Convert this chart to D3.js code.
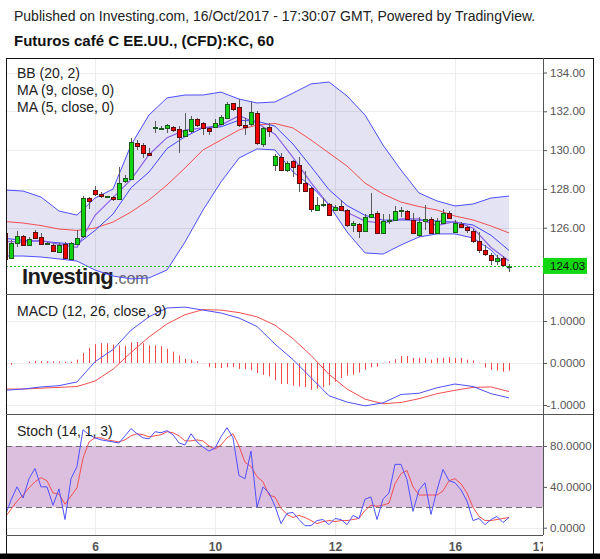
<!DOCTYPE html>
<html>
<head>
<meta charset="utf-8">
<title>KC, 60</title>
<script src="https://cdnjs.cloudflare.com/ajax/libs/d3/7.8.5/d3.min.js"></script>
<style>
  body { margin: 0; background: #fff; }
  svg { display: block; font-family: "Liberation Sans", Arial, sans-serif; }
</style>
</head>
<body>
<svg id="chart" width="600" height="559"></svg>
<script>
// ---- data (hourly candles, index 0 = left edge) ----
const candleOpen = [125.72,124.42,125.25,125.57,125.14,125.79,125.50,125.16,125.11,124.75,
  125.14,124.39,125.14,125.54,127.51,127.94,127.72,127.59,127.56,127.51,
  128.41,128.52,130.38,130.25,129.86,131.17,131.12,131.12,131.18,131.08,
  130.74,130.95,131.62,131.38,131.12,131.17,131.35,131.64,132.41,132.20,
  131.31,131.34,131.93,130.31,131.17,129.21,129.63,128.97,129.44,129.21,
  128.29,128.03,126.90,127.19,127.20,126.90,127.12,126.91,126.15,126.17,
  125.84,126.55,126.75,125.76,126.38,126.38,126.90,126.85,126.40,125.62,
  126.31,126.43,125.74,126.28,126.78,125.76,126.19,126.02,125.81,125.33,
  124.85,124.57,124.27,124.42,124.00];
const candleHigh = [125.85,125.37,125.85,125.62,125.53,125.88,125.71,125.24,125.20,125.20,
  125.25,125.25,125.88,127.63,127.60,128.15,127.85,127.65,127.65,129.14,
  128.72,130.60,130.51,130.35,130.10,131.50,131.22,131.34,131.25,131.24,
  131.90,131.76,131.67,131.46,131.21,131.59,131.81,132.50,132.45,132.62,
  131.66,132.50,132.03,131.21,131.38,129.80,129.83,129.45,129.50,129.66,
  128.92,128.12,127.57,127.51,127.26,127.19,127.43,126.95,126.34,126.22,
  126.71,127.77,126.88,126.71,126.71,127.10,127.08,126.91,126.74,126.57,
  127.17,126.57,126.48,126.95,126.88,126.40,126.31,126.09,125.91,125.79,
  125.11,124.68,124.59,124.56,124.11];
const candleLow = [124.30,124.40,125.02,125.06,125.06,125.43,125.09,125.12,124.75,124.69,
  124.37,124.36,125.10,125.45,126.95,127.63,127.52,127.55,127.40,127.45,
  128.32,128.48,130.00,129.57,129.76,130.88,131.05,130.86,130.95,129.87,
  130.66,130.90,131.17,130.76,130.79,131.12,131.30,131.59,132.03,131.17,
  130.80,131.24,130.26,130.14,130.69,128.94,128.92,128.88,128.60,127.86,
  127.86,126.83,126.85,127.08,126.60,126.86,126.88,126.05,125.79,125.45,
  125.79,126.50,125.67,125.71,126.19,126.33,126.53,126.40,125.67,125.54,
  125.88,125.67,125.67,126.23,126.48,125.71,126.02,125.74,125.23,124.71,
  124.54,124.08,124.08,124.00,123.72];
const candleClose = [124.36,125.20,125.59,125.09,125.43,125.49,125.14,125.19,124.78,125.09,
  124.42,125.20,125.45,127.51,127.34,127.72,127.60,127.61,127.48,128.32,
  128.55,130.43,130.23,129.83,129.78,131.19,131.13,131.29,131.00,130.69,
  131.03,131.59,131.33,131.12,130.95,131.38,131.69,132.38,132.10,131.29,
  131.22,131.98,130.38,131.12,130.95,129.68,128.97,129.35,129.15,128.29,
  127.86,126.95,127.17,127.22,126.64,127.07,126.91,126.15,126.25,125.81,
  126.57,126.70,125.71,126.36,126.40,126.85,126.93,126.43,125.74,126.31,
  126.43,125.71,126.36,126.78,126.53,126.22,126.05,125.85,125.30,124.85,
  124.62,124.30,124.42,124.08,124.03];

// indicator lines read every third candle
const lineIdx = [0,3,6,9,12,15,18,21,24,27,30,33,36,39,42,45,48,51,54,57,60,63,66,69,72,75,78,81,84];
const bbUpper = [127.94,127.89,127.58,126.86,126.65,127.53,127.99,130.26,131.81,132.69,132.84,132.84,132.99,132.63,132.43,
  132.48,132.94,133.41,133.51,132.79,131.81,130.26,128.97,127.79,127.38,127.12,127.22,127.53,127.63];
const bbLower = [124.54,124.54,124.49,124.39,124.28,123.82,123.51,123.36,123.41,123.82,125.26,126.91,128.36,129.59,130.06,
  130.01,128.87,128.15,127.17,125.78,124.70,124.64,125.11,125.52,125.68,125.68,125.47,124.85,123.85];
const bbBasis = [126.32,126.24,126.11,125.93,125.86,125.98,126.29,126.81,127.43,128.20,129.08,130.01,130.52,131.04,131.29,
  131.37,131.14,130.52,129.85,129.18,128.30,127.74,127.32,127.09,126.91,126.60,126.40,126.09,125.73];
const ma9 = [125.45,125.35,125.30,125.22,125.13,125.86,126.70,128.06,128.87,130.08,130.69,131.15,131.20,131.54,131.49,
  131.23,130.31,129.15,127.96,127.14,126.64,126.39,126.40,126.38,126.35,126.28,126.14,125.61,124.83];
const ma5 = [125.30,125.25,125.35,125.14,124.99,126.64,127.55,128.48,129.76,130.64,131.03,131.15,131.29,131.77,131.39,
  130.82,129.62,128.32,127.17,126.80,126.34,126.23,126.45,126.45,126.11,126.32,125.99,124.98,124.29];

const macdLine = [-0.65,-0.62,-0.57,-0.54,-0.45,0.03,0.32,0.78,1.10,1.31,1.33,1.26,1.19,1.07,0.87,
  0.45,0.08,-0.35,-0.78,-0.93,-1.02,-0.95,-0.75,-0.72,-0.59,-0.50,-0.56,-0.73,-0.83];
const macdSignal = [-0.62,-0.62,-0.60,-0.58,-0.56,-0.43,-0.15,0.25,0.62,0.93,1.15,1.27,1.26,1.20,1.10,
  0.90,0.58,0.18,-0.27,-0.62,-0.86,-0.97,-0.94,-0.85,-0.73,-0.65,-0.58,-0.57,-0.68];
const macdHist = [0,-0.04,0,0,0.03,0.05,0.05,0.04,0.04,0.04,
  0.03,0.03,0.08,0.24,0.36,0.45,0.47,0.47,0.44,0.42,
  0.41,0.49,0.50,0.47,0.42,0.42,0.40,0.34,0.27,0.18,
  0.10,0.08,0.04,-0.01,-0.10,-0.12,-0.12,-0.10,-0.10,-0.14,
  -0.15,-0.17,-0.24,-0.28,-0.32,-0.41,-0.50,-0.50,-0.54,-0.56,
  -0.57,-0.64,-0.61,-0.58,-0.53,-0.45,-0.36,-0.30,-0.28,-0.23,
  -0.16,-0.10,-0.09,-0.01,0.04,0.09,0.17,0.17,0.12,0.12,
  0.12,0.08,0.12,0.12,0.14,0.12,0.12,0.08,0.06,0.01,
  -0.11,-0.16,-0.18,-0.21,-0.18];

const stochK = [11,27,40,29,48,58,40,40,22,38,8,48,60,96,91,88,86,85,84,83,
  90,97,92,88,87,94,93,95,91,83,81,92,84,79,75,78,89,98,88,51,
  48,75,20,40,34,21,4,14,15,8,2,2,7,8,3,9,8,3,12,9,
  28,30,8,28,34,62,62,47,16,37,44,13,37,57,46,44,37,26,7,9,
  3,8,11,5,10];
const stochD = [10,18,26,32,39,45,49,46,34,33,23,31,39,68,84,88,88,86,85,84,
  86,90,92,91,89,90,91,94,93,90,85,85,86,85,80,77,81,88,92,80,
  64,60,50,45,32,30,19,13,10,12,10,7,4,6,7,6,7,7,8,9,
  17,22,21,22,24,43,53,56,40,32,32,32,32,36,46,48,43,34,20,11,
  7,7,8,9,10];

const priceTicks = [126, 128, 130, 132, 134];
const macdTicks = [-1, 0, 1];
const stochTicks = [0, 40, 80];
const stochBand = [20, 80];
const lastPrice = 124.03;
const dayTickIdx = [15, 35, 55, 75, 89];
const dayLabels = ["6", "10", "12", "16", "17"];

// ---- layout ----
const plotL = 6, plotR = 543, frameR = 593, frameT = 58;
const mainB = 294, macdB = 414, stochB = 535;

const svg = d3.select("#chart");
const font = "'Liberation Sans', Arial, sans-serif";

const x = d3.scaleLinear().domain([0, 84]).range([5, 509]);
const yP = d3.scaleLinear().domain([124, 134]).range([266.5, 72.5]);
const yM = d3.scaleLinear().domain([-1, 1]).range([405, 321]);
const yS = d3.scaleLinear().domain([0, 80]).range([527.7, 446]);

// clip paths per panel
const defs = svg.append("defs");
function clip(id, y0, y1) {
  defs.append("clipPath").attr("id", id).append("rect")
    .attr("x", plotL + 1).attr("y", y0).attr("width", plotR - plotL - 1).attr("height", y1 - y0);
}
clip("cMain", frameT, mainB);
clip("cMacd", mainB, macdB);
clip("cStoch", macdB, stochB);

svg.append("rect").attr("width", 600).attr("height", 559).attr("fill", "#fff");

// header
svg.append("text").attr("x", 14).attr("y", 21)
  .style("font", `14px ${font}`).attr("fill", "#222")
  .text("Published on Investing.com, 16/Oct/2017 - 17:30:07 GMT, Powered by TradingView.");
svg.append("text").attr("x", 14).attr("y", 46)
  .style("font", `bold 15px ${font}`).attr("fill", "#111")
  .text("Futuros café C EE.UU., (CFD):KC, 60");

// grid
const grid = svg.append("g").attr("stroke", "#ececec").attr("shape-rendering", "crispEdges");
grid.selectAll(".vg").data(dayTickIdx.slice(0, 4)).join("line")
  .attr("x1", d => Math.round(x(d)) + 0.5).attr("x2", d => Math.round(x(d)) + 0.5)
  .attr("y1", frameT).attr("y2", stochB);
grid.selectAll(".hp").data(priceTicks).join("line")
  .attr("x1", plotL).attr("x2", plotR).attr("y1", d => Math.round(yP(d)) + 0.5).attr("y2", d => Math.round(yP(d)) + 0.5);
grid.selectAll(".hm").data(macdTicks).join("line")
  .attr("x1", plotL).attr("x2", plotR).attr("y1", d => Math.round(yM(d)) + 0.5).attr("y2", d => Math.round(yM(d)) + 0.5);
grid.selectAll(".hs").data([0, 40]).join("line")
  .attr("x1", plotL).attr("x2", plotR).attr("y1", d => Math.round(yS(d)) + 0.5).attr("y2", d => Math.round(yS(d)) + 0.5);

// ---- main panel ----
const main = svg.append("g").attr("clip-path", "url(#cMain)");

// watermark
const wm = main.append("g");
wm.append("text").attr("x", 22).attr("y", 284)
  .style("font", `bold 22px ${font}`).attr("letter-spacing", "-0.6").attr("fill", "#1c1c1c").text("Investing");
wm.append("text").attr("x", 114).attr("y", 284)
  .style("font", `16px ${font}`).attr("fill", "#6a6a6a").text(".com");

const pts = lineIdx.map((d, k) => k);
const band = d3.area().x(k => x(lineIdx[k])).y0(k => yP(bbLower[k])).y1(k => yP(bbUpper[k]));
main.append("path").datum(pts).attr("d", band).attr("fill", "rgba(60,60,170,0.14)");

function priceLine(vals, color, w) {
  main.append("path").datum(pts)
    .attr("d", d3.line().x(k => x(lineIdx[k])).y(k => yP(vals[k])))
    .attr("fill", "none").attr("stroke", color).attr("stroke-width", w);
}
priceLine(bbUpper, "#4f4fff", 1);
priceLine(bbLower, "#4f4fff", 1);
priceLine(bbBasis, "#f25050", 1);
priceLine(ma9, "#4646ff", 1);
priceLine(ma5, "#8c62e6", 1.2);

// candles
const cg = main.append("g").attr("shape-rendering", "crispEdges");
const idx = d3.range(candleClose.length);
cg.selectAll(".wick").data(idx).join("line")
  .attr("x1", i => x(i) + 0.5).attr("x2", i => x(i) + 0.5)
  .attr("y1", i => yP(candleHigh[i])).attr("y2", i => yP(candleLow[i]))
  .attr("stroke", "#5a5a5a");
cg.selectAll(".body").data(idx).join("rect")
  .attr("x", i => x(i) - 1.5).attr("width", 4)
  .attr("y", i => Math.round(yP(Math.max(candleOpen[i], candleClose[i]))) + 0.5)
  .attr("height", i => Math.max(1, Math.round(Math.abs(yP(candleOpen[i]) - yP(candleClose[i])))))
  .attr("fill", i => candleClose[i] >= candleOpen[i] ? "#0fd40f" : "#f20000")
  .attr("stroke", i => candleClose[i] >= candleOpen[i] ? "#1d5a1d" : "#5a1010");

// last price line
svg.append("line").attr("x1", plotL).attr("x2", plotR)
  .attr("y1", Math.round(yP(lastPrice)) + 0.5).attr("y2", Math.round(yP(lastPrice)) + 0.5)
  .attr("stroke", "#1cc01c").attr("stroke-dasharray", "2,2");

// legend
const leg = svg.append("g").style("font", `14px ${font}`).attr("fill", "#222");
["BB (20, 2)", "MA (9, close, 0)", "MA (5, close, 0)"].forEach((t, k) =>
  leg.append("text").attr("x", 17).attr("y", 78 + k * 17).text(t));

// ---- MACD panel ----
const macd = svg.append("g").attr("clip-path", "url(#cMacd)");
macd.selectAll(".h").data(idx).join("line")
  .attr("x1", i => x(i) + 0.5).attr("x2", i => x(i) + 0.5)
  .attr("y1", yM(0)).attr("y2", i => yM(macdHist[i]))
  .attr("stroke", "#f04a4a").attr("stroke-width", 1);
macd.append("path").datum(pts)
  .attr("d", d3.line().x(k => x(lineIdx[k])).y(k => yM(macdSignal[k])))
  .attr("fill", "none").attr("stroke", "#f25050");
macd.append("path").datum(pts)
  .attr("d", d3.line().x(k => x(lineIdx[k])).y(k => yM(macdLine[k])))
  .attr("fill", "none").attr("stroke", "#5050ff");
svg.append("text").attr("x", 17).attr("y", 316).style("font", `14px ${font}`).attr("fill", "#222")
  .text("MACD (12, 26, close, 9)");

// ---- Stoch panel ----
const st = svg.append("g").attr("clip-path", "url(#cStoch)");
st.append("rect").attr("x", plotL).attr("width", plotR - plotL)
  .attr("y", yS(stochBand[1])).attr("height", yS(stochBand[0]) - yS(stochBand[1]))
  .attr("fill", "#dcbfdf");
st.selectAll(".dl").data(stochBand).join("line")
  .attr("x1", plotL).attr("x2", plotR)
  .attr("y1", d => Math.round(yS(d)) + 0.5).attr("y2", d => Math.round(yS(d)) + 0.5)
  .attr("stroke", "#6e6e6e").attr("stroke-dasharray", "6,4");
st.append("path").datum(idx)
  .attr("d", d3.line().x(i => x(i)).y(i => yS(stochD[i])))
  .attr("fill", "none").attr("stroke", "#f25050");
st.append("path").datum(idx)
  .attr("d", d3.line().x(i => x(i)).y(i => yS(stochK[i])))
  .attr("fill", "none").attr("stroke", "#5050ff");
svg.append("text").attr("x", 17).attr("y", 436).style("font", `14px ${font}`).attr("fill", "#222")
  .text("Stoch (14, 1, 3)");

// ---- frame and separators ----
const fr = svg.append("g").attr("shape-rendering", "crispEdges");
fr.append("line").attr("x1", plotL).attr("x2", frameR + 1).attr("y1", frameT + 0.5).attr("y2", frameT + 0.5).attr("stroke", "#111");
fr.append("line").attr("x1", plotL + 0.5).attr("x2", plotL + 0.5).attr("y1", frameT).attr("y2", 559).attr("stroke", "#111").attr("stroke-width", 1.5);
fr.append("line").attr("x1", frameR + 0.5).attr("x2", frameR + 0.5).attr("y1", frameT).attr("y2", 554).attr("stroke", "#111");
[mainB, macdB].forEach(yy => fr.append("line").attr("x1", plotL).attr("x2", frameR)
  .attr("y1", yy + 0.5).attr("y2", yy + 0.5).attr("stroke", "#555"));
fr.append("line").attr("x1", plotL).attr("x2", plotR).attr("y1", stochB + 0.5).attr("y2", stochB + 0.5).attr("stroke", "#555");
fr.append("line").attr("x1", plotR + 0.5).attr("x2", plotR + 0.5).attr("y1", frameT).attr("y2", stochB).attr("stroke", "#555");
svg.append("rect").attr("x", 0).attr("y", 553.5).attr("width", 600).attr("height", 6).attr("fill", "#000");

// ---- axes ----
function rightAxis(scale, ticks, fmt) {
  const g = svg.append("g").attr("transform", `translate(${plotR},0)`)
    .call(d3.axisRight(scale).tickValues(ticks).tickFormat(fmt).tickSize(4).tickPadding(3));
  g.select(".domain").remove();
  g.selectAll("line").attr("stroke", "#555");
  g.selectAll("text").attr("fill", "#555").style("font", `11.5px ${font}`)
    .attr("x", d => d < 0 ? 3.5 : 7);
  return g;
}
rightAxis(yP, priceTicks, d3.format(".2f"));
rightAxis(yM, macdTicks, d => d.toFixed(4));
rightAxis(yS, stochTicks, d => d.toFixed(4));

// last price tag
svg.append("rect").attr("x", plotR).attr("y", yP(lastPrice) - 8).attr("width", 44).attr("height", 16).attr("fill", "#12d812");
svg.append("text").attr("x", plotR + 7).attr("y", yP(lastPrice) + 4.5)
  .style("font", `11.5px ${font}`).attr("fill", "#111").text(lastPrice.toFixed(2));

// time axis (clip is in the group's own coordinates)
defs.append("clipPath").attr("id", "cX").append("rect").attr("x", 0).attr("y", 0).attr("width", plotR).attr("height", 20);
const xg = svg.append("g").attr("transform", `translate(0,${stochB})`).attr("clip-path", "url(#cX)")
  .call(d3.axisBottom(x).tickValues(dayTickIdx).tickFormat((d, i) => dayLabels[i]).tickSize(0).tickPadding(7));
xg.select(".domain").remove();
xg.selectAll("text").attr("fill", "#555").style("font", `bold 12px ${font}`);
</script>
</body>
</html>
